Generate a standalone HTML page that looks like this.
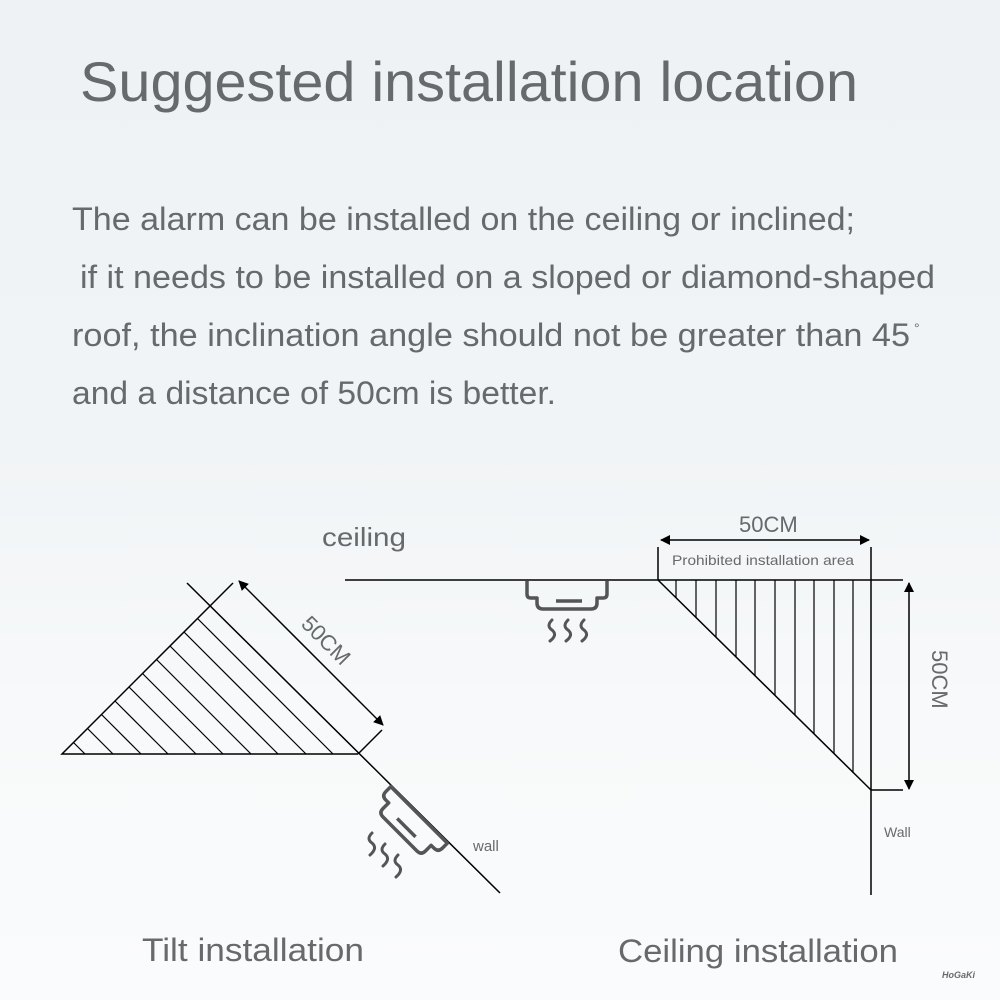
<!DOCTYPE html>
<html><head><style>
html,body{margin:0;padding:0;width:1000px;height:1000px;overflow:hidden;}
body{background:linear-gradient(#eef2f5 0%,#f1f4f6 45%,#f7f9fa 70%,#fafbfc 100%);}
svg{position:absolute;left:0;top:0;}
text{font-family:"Liberation Sans",sans-serif;fill:#676a6d;}
</style></head><body>
<svg width="1000" height="1000" viewBox="0 0 1000 1000">
<defs>
<marker id="ar" viewBox="0 0 10 10" refX="9" refY="5" markerWidth="10" markerHeight="10" orient="auto-start-reverse" markerUnits="userSpaceOnUse"><path d="M0,0 L10,5 L0,10z" fill="#000"/></marker>
</defs>
<text x="80" y="101" font-size="56" textLength="778" lengthAdjust="spacingAndGlyphs">Suggested installation location</text>
<text x="72" y="230" font-size="32" textLength="783" lengthAdjust="spacingAndGlyphs">The alarm can be installed on the ceiling or inclined;</text>
<text x="80" y="288" font-size="32" textLength="855" lengthAdjust="spacingAndGlyphs">if it needs to be installed on a sloped or diamond-shaped</text>
<text x="72" y="346" font-size="32" textLength="838" lengthAdjust="spacingAndGlyphs">roof, the inclination angle should not be greater than 45</text>
<text x="914" y="333" font-size="14">°</text>
<text x="72" y="404" font-size="32" textLength="484" lengthAdjust="spacingAndGlyphs">and a distance of 50cm is better.</text>

<text x="322" y="546" font-size="26" textLength="84" lengthAdjust="spacingAndGlyphs">ceiling</text>

<!-- left diagram -->
<g stroke="#000" stroke-width="1.5" fill="none">
<line x1="187" y1="583" x2="500" y2="893"/>
<polyline points="358,754 62,754 210,606"/>
<g stroke-width="1.2">
<line x1="85" y1="754" x2="73.5" y2="742.5"/>
<line x1="113" y1="754" x2="87.5" y2="728.5"/>
<line x1="141" y1="754" x2="101.5" y2="714.5"/>
<line x1="168" y1="754" x2="115" y2="701"/>
<line x1="196" y1="754" x2="129" y2="687"/>
<line x1="223" y1="754" x2="142.5" y2="673.5"/>
<line x1="251" y1="754" x2="156.5" y2="659.5"/>
<line x1="278" y1="754" x2="170" y2="646"/>
<line x1="306" y1="754" x2="184" y2="632"/>
<line x1="333" y1="754" x2="197.5" y2="618.5"/>
</g>
<line x1="358" y1="754" x2="382" y2="730"/>
<line x1="210" y1="606" x2="233" y2="583"/>
<line x1="239" y1="581" x2="383" y2="725" marker-start="url(#ar)" marker-end="url(#ar)"/>
</g>
<text x="0" y="0" font-size="22" transform="translate(300,625) rotate(45)">50CM</text>
<!-- tilted detector -->
<g transform="translate(400,834) rotate(45)" stroke="#555" stroke-width="3.5" fill="none" stroke-linejoin="round">
<path d="M-40,-27 L-40,-20 Q-40,-14 -34,-14 L-30,-14 L-30,-6 Q-30,0 -24,0 L24,0 Q30,0 30,-6 L30,-14 L34,-14 Q40,-14 40,-20 L40,-27 Z"/>
<line x1="-13" y1="-9" x2="13" y2="-9"/>
</g>
<g stroke="#555" stroke-width="3" fill="none" stroke-linecap="round">
<path d="M372,833 q-6,6 0,10 q6,5 -2,12"/>
<path d="M385,844 q-6,6 0,10 q6,5 -2,12"/>
<path d="M398,855 q-6,6 0,10 q6,5 -2,12"/>
</g>
<text x="473" y="851" font-size="15">wall</text>

<!-- right diagram -->
<g stroke="#000" stroke-width="1.5" fill="none">
<line x1="345" y1="580" x2="903" y2="580"/>
<line x1="658" y1="547" x2="658" y2="580"/>
<line x1="871" y1="547" x2="871" y2="895"/>
<line x1="658" y1="580" x2="871" y2="790"/>
<line x1="871" y1="790" x2="903" y2="790"/>
<g stroke-width="1.2">
<line x1="676" y1="580" x2="676" y2="598"/>
<line x1="696" y1="580" x2="696" y2="617"/>
<line x1="716" y1="580" x2="716" y2="637"/>
<line x1="736" y1="580" x2="736" y2="657"/>
<line x1="755" y1="580" x2="755" y2="676"/>
<line x1="775" y1="580" x2="775" y2="695"/>
<line x1="795" y1="580" x2="795" y2="715"/>
<line x1="814" y1="580" x2="814" y2="734"/>
<line x1="834" y1="580" x2="834" y2="754"/>
<line x1="853" y1="580" x2="853" y2="773"/>
</g>
<line x1="661" y1="540" x2="869" y2="540" marker-start="url(#ar)" marker-end="url(#ar)"/>
<line x1="909" y1="583" x2="909" y2="789" marker-start="url(#ar)" marker-end="url(#ar)"/>
</g>
<text x="739" y="532" font-size="22">50CM</text>
<text x="672" y="565" font-size="14" textLength="182" lengthAdjust="spacingAndGlyphs">Prohibited installation area</text>
<text x="0" y="0" font-size="22" transform="translate(932,650) rotate(90)">50CM</text>
<text x="884" y="837" font-size="14">Wall</text>
<!-- ceiling detector -->
<g stroke="#555" stroke-width="3.5" fill="none" stroke-linejoin="round">
<path d="M527,581 L527,594 Q527,598 531,598 L537,598 L537,603 Q537,609 543,609 L591,609 Q597,609 597,603 L597,598 L603,598 Q607,598 607,594 L607,581"/>
<line x1="556" y1="601" x2="582" y2="601"/>
</g>
<g stroke="#555" stroke-width="3" fill="none" stroke-linecap="round">
<path d="M552,620 q-6,6 0,10 q6,5 -2,11"/>
<path d="M568,620 q-6,6 0,10 q6,5 -2,11"/>
<path d="M584,620 q-6,6 0,10 q6,5 -2,11"/>
</g>

<text x="142" y="961" font-size="32" textLength="222" lengthAdjust="spacingAndGlyphs">Tilt installation</text>
<text x="618" y="962" font-size="32" textLength="280" lengthAdjust="spacingAndGlyphs">Ceiling installation</text>
<text x="942" y="978" font-size="9" fill="#333" font-style="italic" font-weight="bold">HoGaKi</text>
</svg>
</body></html>
